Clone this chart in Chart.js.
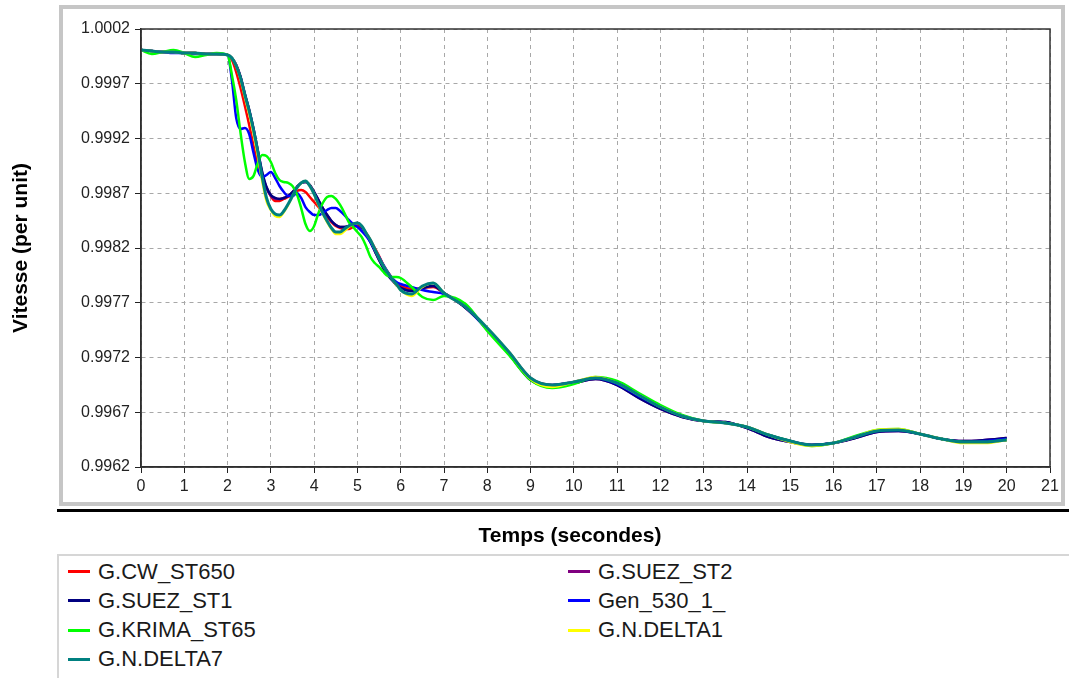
<!DOCTYPE html>
<html>
<head>
<meta charset="utf-8">
<title>Vitesse</title>
<script src="https://cdn.jsdelivr.net/npm/chart.js@4.4.1/dist/chart.umd.min.js"></script>
<style>
  body { margin: 0; background: #fff; font-family: 'Liberation Sans', Arial, sans-serif; }
  #wrap { position: relative; width: 1069px; height: 678px; overflow: hidden; }
  #speedChart { position: absolute; left: 0; top: 0; }
  #legend { position: absolute; left: 57px; top: 554px; width: 1012px; height: 130px;
            border-top: 2px solid #d6d6d6; border-left: 2px solid #d6d6d6; }
  .item { position: absolute; height: 29px; display: flex; align-items: center;
          font-size: 22px; color: #1a1a1a; white-space: nowrap; }
  .swatch { width: 22px; height: 3px; margin-right: 8px; }
</style>
</head>
<body>
<div id="wrap">
  <canvas id="speedChart" width="1069" height="550"></canvas>
  <div id="legend"></div>
</div>
<script>
// time (s)
const times = [
  0, 0.25, 0.5, 0.75, 1, 1.25, 1.5, 1.75, 2,
  2.1, 2.2, 2.3, 2.4, 2.5, 2.6, 2.7, 2.8, 2.9, 3,
  3.1, 3.2, 3.3, 3.4, 3.5, 3.6, 3.7, 3.8, 3.9, 4,
  4.1, 4.2, 4.3, 4.4, 4.5, 4.6, 4.7, 4.8, 4.9, 5,
  5.1, 5.2, 5.3, 5.4, 5.5, 5.6, 5.7, 5.8, 5.9, 6,
  6.25, 6.5, 6.75, 7,
  7.5, 8, 8.5, 9, 9.5, 10, 10.5, 11, 11.5, 12,
  12.5, 13, 13.5, 14, 14.5, 15, 15.5, 16, 16.5, 17,
  17.5, 18, 18.5, 19, 19.5, 20
];

// speed (per unit) for each generator
const cwSt650 = [
  1.000008, 0.999999, 0.99999, 0.99999, 0.999981, 0.999981, 0.999972, 0.999972, 0.999963,
  0.999917, 0.999807, 0.999661, 0.999497, 0.999323, 0.999131, 0.998958, 0.998839, 0.998748, 0.998675,
  0.998629, 0.998629, 0.998648, 0.998666, 0.998693, 0.998721, 0.99873, 0.998711, 0.998666, 0.99862,
  0.998574, 0.998529, 0.998483, 0.998437, 0.998401, 0.998383, 0.998374, 0.998374, 0.998392, 0.998401,
  0.998383, 0.998337, 0.998273, 0.9982, 0.998127, 0.998045, 0.997981, 0.997926, 0.99788, 0.997853,
  0.997826, 0.997835, 0.997844, 0.997789,
  0.997661, 0.99746, 0.99725, 0.997013, 0.996949, 0.996976, 0.997013, 0.996967, 0.996858, 0.996757,
  0.996666, 0.99662, 0.996602, 0.996565, 0.996492, 0.996437, 0.996401, 0.996419, 0.996474, 0.996529,
  0.996538, 0.996501, 0.996456, 0.996428, 0.996428, 0.996447
];
const suezSt2 = [
  1.000008, 0.999999, 0.99999, 0.99999, 0.999981, 0.999981, 0.999972, 0.999972, 0.999963,
  0.999935, 0.999871, 0.999762, 0.999606, 0.99946, 0.999287, 0.999086, 0.998885, 0.998748, 0.998675,
  0.998648, 0.998648, 0.998657, 0.998675, 0.998711, 0.998757, 0.998794, 0.998803, 0.998775, 0.998711,
  0.998638, 0.998565, 0.998501, 0.998447, 0.99841, 0.998392, 0.998392, 0.998401, 0.998419, 0.998428,
  0.998392, 0.998328, 0.998255, 0.998173, 0.99809, 0.998017, 0.997953, 0.997908, 0.997862, 0.997835,
  0.997807, 0.997835, 0.997853, 0.997789,
  0.997652, 0.99746, 0.997232, 0.996995, 0.99694, 0.996967, 0.997004, 0.996949, 0.99683, 0.99673,
  0.996657, 0.99662, 0.996611, 0.996556, 0.996474, 0.996428, 0.996401, 0.996419, 0.996465, 0.99652,
  0.996529, 0.996501, 0.996456, 0.996437, 0.996447, 0.996465
];
const suezSt1 = [
  1.000008, 0.999999, 0.99999, 0.99999, 0.999981, 0.999981, 0.999972, 0.999972, 0.999963,
  0.999935, 0.999871, 0.999762, 0.999606, 0.99946, 0.999287, 0.999086, 0.998894, 0.998757, 0.998684,
  0.998657, 0.998648, 0.998657, 0.998675, 0.998711, 0.998757, 0.998794, 0.998803, 0.998775, 0.998711,
  0.998638, 0.998565, 0.998501, 0.998447, 0.99841, 0.998392, 0.998392, 0.998401, 0.998419, 0.998428,
  0.998392, 0.998328, 0.998255, 0.998173, 0.99809, 0.998017, 0.997953, 0.997908, 0.997862, 0.997835,
  0.997807, 0.997835, 0.997853, 0.997789,
  0.997652, 0.99746, 0.997232, 0.996995, 0.99694, 0.996967, 0.997004, 0.996949, 0.99683, 0.99673,
  0.996657, 0.99662, 0.996611, 0.996556, 0.996474, 0.996428, 0.996401, 0.996419, 0.996465, 0.99652,
  0.996529, 0.996501, 0.996456, 0.996437, 0.996447, 0.996465
];
const gen530 = [
  1.000008, 0.999999, 0.99999, 0.999981, 0.999981, 0.999972, 0.999972, 0.999972, 0.999963,
  0.999734, 0.999387, 0.999287, 0.999296, 0.999241, 0.999068, 0.998912, 0.998848, 0.998867, 0.998894,
  0.998839, 0.998766, 0.998711, 0.998675, 0.998675, 0.998702, 0.998657, 0.998574, 0.998529, 0.998501,
  0.998501, 0.99852, 0.998547, 0.998565, 0.998565, 0.998538, 0.998501, 0.998456, 0.998419, 0.998392,
  0.998355, 0.99831, 0.998255, 0.998182, 0.998118, 0.998045, 0.997981, 0.997926, 0.99789, 0.997871,
  0.997844, 0.997816, 0.997798, 0.99778,
  0.997661, 0.997451, 0.997241, 0.997004, 0.996949, 0.996976, 0.997013, 0.996958, 0.996848, 0.996748,
  0.996666, 0.99662, 0.996602, 0.996565, 0.996492, 0.996437, 0.996401, 0.996419, 0.996474, 0.996529,
  0.996538, 0.996501, 0.996456, 0.996428, 0.996437, 0.996456
];
const krimaSt65 = [
  1.000008, 0.999972, 0.99999, 1.000008, 0.999981, 0.999944, 0.999963, 0.999981, 0.999963,
  0.99978, 0.999552, 0.99925, 0.998985, 0.99883, 0.998858, 0.998976, 0.999049, 0.99904, 0.998985,
  0.998885, 0.998821, 0.998803, 0.998794, 0.998766, 0.998693, 0.998565, 0.998419, 0.998355, 0.998401,
  0.99852, 0.998611, 0.998666, 0.998675, 0.998648, 0.998593, 0.99852, 0.998437, 0.998392, 0.998346,
  0.9983, 0.998218, 0.998118, 0.998063, 0.998027, 0.997981, 0.997944, 0.997935, 0.997935, 0.997926,
  0.997844, 0.997753, 0.997725, 0.997762,
  0.997689, 0.997442, 0.997223, 0.996995, 0.996922, 0.996958, 0.997022, 0.996985, 0.996876, 0.996766,
  0.996675, 0.99662, 0.996602, 0.996565, 0.996492, 0.996437, 0.996392, 0.996419, 0.996483, 0.996538,
  0.996547, 0.996501, 0.996456, 0.996428, 0.996428, 0.996447
];
const nDelta1 = [
  1.000008, 0.999999, 0.99999, 0.99999, 0.999981, 0.999981, 0.999972, 0.999972, 0.999963,
  0.999935, 0.999862, 0.999743, 0.999579, 0.999424, 0.99925, 0.99904, 0.998812, 0.998629, 0.998547,
  0.998492, 0.998483, 0.998529, 0.998593, 0.998675, 0.998748, 0.998794, 0.998812, 0.998766, 0.998693,
  0.998593, 0.998511, 0.998437, 0.998374, 0.998328, 0.998328, 0.998355, 0.998392, 0.998419, 0.998428,
  0.998401, 0.998337, 0.998273, 0.998191, 0.998109, 0.998036, 0.997972, 0.997917, 0.997862, 0.997816,
  0.997762, 0.997844, 0.99788, 0.997789,
  0.997661, 0.997469, 0.99725, 0.997004, 0.996931, 0.996976, 0.997022, 0.996967, 0.996858, 0.996748,
  0.996666, 0.99662, 0.996602, 0.996565, 0.996492, 0.996428, 0.996392, 0.996419, 0.996474, 0.996538,
  0.996547, 0.996501, 0.996456, 0.996419, 0.996419, 0.996447
];
const nDelta7 = [
  1.000008, 0.999999, 0.99999, 0.99999, 0.999981, 0.999981, 0.999972, 0.999972, 0.999963,
  0.999935, 0.999862, 0.999753, 0.999597, 0.999451, 0.999278, 0.999077, 0.998848, 0.998657, 0.998556,
  0.998511, 0.998501, 0.998538, 0.998602, 0.998675, 0.998748, 0.998794, 0.998812, 0.998766, 0.998693,
  0.998602, 0.99852, 0.998447, 0.998383, 0.998346, 0.998346, 0.998374, 0.998401, 0.998419, 0.998428,
  0.998401, 0.998337, 0.998273, 0.998191, 0.998109, 0.998036, 0.997972, 0.997917, 0.997871, 0.997816,
  0.99778, 0.997853, 0.99788, 0.997789,
  0.997661, 0.997469, 0.99725, 0.997013, 0.996949, 0.996976, 0.997013, 0.996967, 0.996858, 0.996748,
  0.996666, 0.99662, 0.996602, 0.996565, 0.996492, 0.996437, 0.996401, 0.996419, 0.996474, 0.996529,
  0.996538, 0.996501, 0.996456, 0.996428, 0.996428, 0.996447
];

const seriesNames = ['G.CW_ST650', 'G.SUEZ_ST2', 'G.SUEZ_ST1', 'Gen_530_1_', 'G.KRIMA_ST65', 'G.N.DELTA1', 'G.N.DELTA7'];
const seriesValues = [cwSt650, suezSt2, suezSt1, gen530, krimaSt65, nDelta1, nDelta7];
const seriesColors = ['#ff0000', '#800080', '#000080', '#0000ff', '#00ff00', '#ffff00', '#008080'];

// axis ranges
const xMin = 0, xMax = 21, xStep = 1;
const yMin = 0.9962, yMax = 1.0002, yStep = 0.0005;
const xTitle = 'Temps (secondes)';

const fontFamily = "'Liberation Sans', Arial, sans-serif";

// panel frame, plot border and x title (the title sits centred on the panel, not on the plot)
const framePlugin = {
    id: 'frame',
    beforeDraw(chart) {
        const ctx = chart.ctx;
        ctx.save();
        ctx.fillStyle = '#fff';
        ctx.fillRect(0, 0, chart.width, chart.height);
        ctx.strokeStyle = '#c6c6c6';
        ctx.lineWidth = 4;
        ctx.strokeRect(61, 7, 1002, 497);
        ctx.fillStyle = '#000';
        ctx.fillRect(57, 509, chart.width - 57, 3);
        ctx.restore();
    },
    afterDraw(chart) {
        const a = chart.chartArea;
        const ctx = chart.ctx;
        ctx.save();
        ctx.strokeStyle = '#333';
        ctx.lineWidth = 1.5;
        ctx.strokeRect(a.left, a.top, a.right - a.left, a.bottom - a.top);
        ctx.fillStyle = '#000';
        ctx.font = 'bold 21px ' + fontFamily;
        ctx.textAlign = 'center';
        ctx.textBaseline = 'middle';
        ctx.fillText(xTitle, 570, 536);
        ctx.restore();
    }
};

const ctx = document.getElementById('speedChart').getContext('2d');
const speedChart = new Chart(ctx, {
    type: 'line',
    data: {
        datasets: seriesNames.map((name, i) => ({
            label: name,
            data: times.map((t, j) => ({ x: t, y: seriesValues[i][j] })),
            borderColor: seriesColors[i],
            backgroundColor: seriesColors[i],
            borderWidth: i === 6 ? 3 : 2.5,
            pointRadius: 0,
            fill: false,
            cubicInterpolationMode: 'monotone',
            order: seriesNames.length - i
        }))
    },
    options: {
        responsive: false,
        animation: false,
        layout: { padding: { top: 29, right: 19, bottom: 0, left: 0 } },
        plugins: {
            legend: { display: false },
            tooltip: { enabled: false }
        },
        scales: {
            x: {
                type: 'linear',
                min: xMin,
                max: xMax,
                ticks: { stepSize: xStep, color: '#222', padding: 4, font: { family: fontFamily, size: 16 } },
                grid: { color: '#a8a8a8', tickLength: 6, tickColor: '#222', tickBorderDash: [] },
                border: { display: true, color: '#222', width: 1.5, dash: [4, 4] },
                afterFit: (scale) => { scale.height = 83; }
            },
            y: {
                min: yMin,
                max: yMax,
                ticks: {
                    stepSize: yStep,
                    color: '#222',
                    padding: 5,
                    font: { family: fontFamily, size: 16 },
                    callback: (v) => v.toFixed(4)
                },
                grid: { color: '#a8a8a8', tickLength: 6, tickColor: '#222', tickBorderDash: [] },
                border: { display: true, color: '#222', width: 1.5, dash: [4, 4] },
                title: {
                    display: true,
                    text: 'Vitesse (per unit)',
                    color: '#000',
                    font: { family: fontFamily, size: 21, weight: 'bold' },
                    padding: { top: 9, bottom: 0 }
                },
                afterFit: (scale) => { scale.width = 141; }
            }
        }
    },
    plugins: [framePlugin]
});

// legend in two columns, as in the original panel
const legendBox = document.getElementById('legend');
speedChart.data.datasets.forEach((ds, i) => {
    const item = document.createElement('div');
    item.className = 'item';
    item.style.left = (i % 2 === 0 ? 9 : 509) + 'px';
    item.style.top = (1 + Math.floor(i / 2) * 29.3) + 'px';
    const sw = document.createElement('span');
    sw.className = 'swatch';
    sw.style.background = ds.borderColor;
    const label = document.createElement('span');
    label.textContent = ds.label;
    item.appendChild(sw);
    item.appendChild(label);
    legendBox.appendChild(item);
});
</script>
</body>
</html>
